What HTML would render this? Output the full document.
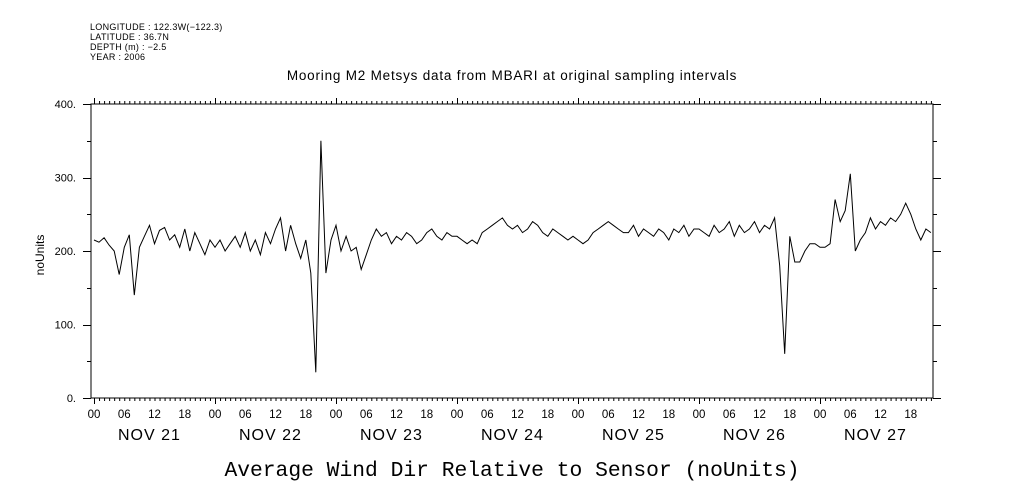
<!DOCTYPE html>
<html><head><meta charset="utf-8"><style>
html,body{margin:0;padding:0;background:#fff;}
svg{display:block;font-family:"Liberation Sans",sans-serif;}
</style></head><body>
<svg id="chart" width="1009" height="504" viewBox="0 0 1009 504">
<g font-size="9" fill="#000" letter-spacing="0.3">
<text x="90" y="30">LONGITUDE : 122.3W(−122.3)</text>
<text x="90" y="40">LATITUDE : 36.7N</text>
<text x="90" y="50">DEPTH (m) : −2.5</text>
<text x="90" y="60">YEAR : 2006</text>
</g>
<text x="512" y="80" font-size="13.5" letter-spacing="0.8" text-anchor="middle">Mooring M2 Metsys data from MBARI at original sampling intervals</text>
<text x="512" y="476" font-size="21.3" text-anchor="middle" font-family="'Liberation Mono',monospace">Average Wind Dir Relative to Sensor (noUnits)</text>
<text transform="translate(44,255) rotate(-90)" font-size="12" text-anchor="middle">noUnits</text>
<rect x="91" y="104" width="842" height="294" fill="none" stroke="#000" stroke-width="1"/>
<g id="axes"></g>
<path id="series" fill="none" stroke="#000" stroke-width="1"/>
</svg>
<script>
const yTicks=[0,100,200,300,400];
const yTickLabels=["0.","100.","200.","300.","400."];
const dayLabels=["NOV 21","NOV 22","NOV 23","NOV 24","NOV 25","NOV 26","NOV 27"];
const hourLabels=["00","06","12","18"];
const nov21=[215,212,218,208,200,168,205,222,140,205,220,235,210,228,232,215,222,205,230,200,225,210,195,215];
const nov22=[205,215,200,210,220,205,225,200,215,195,225,210,230,245,200,235,210,190,215,170,35,350,170,215];
const nov23=[235,200,220,200,205,175,195,215,230,220,225,210,220,215,225,220,210,215,225,230,220,215,225,220];
const nov24=[220,215,210,215,210,225,230,235,240,245,235,230,235,225,230,240,235,225,220,230,225,220,215,220];
const nov25=[215,210,215,225,230,235,240,235,230,225,225,235,220,230,225,220,230,225,215,230,225,235,220,230];
const nov26=[230,225,220,235,225,230,240,220,235,225,230,240,225,235,230,245,180,60,220,185,185,200,210,210];
const nov27=[205,205,210,270,240,255,305,200,215,225,245,230,240,235,245,240,250,265,250,230,215,230,225];
const values=[].concat(nov21,nov22,nov23,nov24,nov25,nov26,nov27);

const X0=94,PXDAY=121,YT=104,YB=398;
const xs=h=>X0+h*PXDAY/24;
const ys=v=>YB-(v/400)*(YB-YT);
const NS="http://www.w3.org/2000/svg";
const ax=document.getElementById('axes');
function el(tag,attrs,txt){const e=document.createElementNS(NS,tag);for(const k in attrs)e.setAttribute(k,attrs[k]);if(txt!==undefined)e.textContent=txt;ax.appendChild(e);return e;}
let d="";
for(let h=0;xs(h)<=933;h++){
  const x=xs(h)+0.5,big=h%24===0;
  d+=`M${x},104V${104-(big?6:3)}M${x},398V${398+(big?6:3)}`;
}
for(let v=0;v<=400;v+=50){
  const y=Math.round(ys(v))+0.5,big=v%100===0;
  d+=`M91,${y}H${91-(big?8:4)}M933,${y}H${933+(big?8:4)}`;
}
const tk=el('path',{d:d,stroke:'#000','stroke-width':1,fill:'none'});


yTicks.forEach((v,i)=>{
  const t=el('text',{x:76,y:ys(v)+4,'font-size':11,'text-anchor':'end'},yTickLabels[i]);
  
  
});
for(let day=0;day<7;day++){
  hourLabels.forEach((lab,j)=>{
    const t=el('text',{x:xs(day*24+j*6),y:418,'font-size':11.5,'text-anchor':'middle'},lab);
    
    
  });
  const t=el('text',{x:xs(day*24+11),y:440,'font-size':16,'letter-spacing':1,'text-anchor':'middle'},dayLabels[day]);
  
  
}
document.getElementById('series').setAttribute('d',values.map((v,i)=>(i?'L':'M')+xs(i).toFixed(1)+','+ys(v).toFixed(1)).join(''));
</script>
</body></html>
